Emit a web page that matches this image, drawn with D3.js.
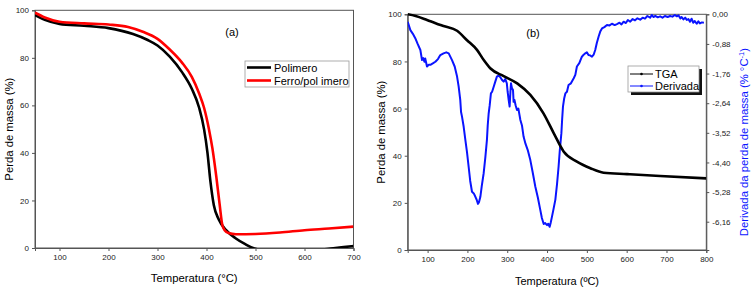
<!DOCTYPE html>
<html>
<head>
<meta charset="utf-8">
<script src="https://cdn.jsdelivr.net/npm/d3@7"></script>
<style>
  body { margin: 0; background: #fff; }
  svg { font-family: "Liberation Sans", Arial, sans-serif; }
  .tick text { font-size: 8px; fill: #222; }
</style>
</head>
<body>
<div id="chart"></div>
<script>
// ---- data, panel (a) ----
const polTemp = [50, 70, 100, 150, 200, 250, 280, 300, 325, 350, 370, 385, 395, 402, 408, 415, 425, 440, 460, 480, 495, 520, 600, 650, 680, 700]
const polMass = [98.0, 96.0, 94.3, 93.5, 92.5, 90.0, 87.5, 85.2, 80.5, 74, 67, 59, 50, 40, 28, 18, 12, 7.5, 4, 1.5, 0, -1, -1.5, -0.3, 0.4, 0.8]
const ferTemp = [50, 70, 100, 150, 200, 240, 270, 300, 325, 350, 370, 385, 395, 405, 412, 420, 427, 432, 437, 445, 460, 500, 550, 600, 650, 700]
const ferMass = [99, 97, 95.2, 94.5, 94, 93, 91, 88, 83.5, 78, 72, 65, 59, 50, 42, 30, 18, 10, 7.5, 6.3, 5.8, 5.9, 6.5, 7.5, 8.2, 9]

// ---- data, panel (b) ----
const tgaTemp = [50, 70, 98.5, 120, 140, 174, 199, 224, 241, 258, 291, 325, 358, 391, 417, 442, 475, 509, 542, 601, 684, 800]
const tgaMass = [100, 99.3, 97.6, 96.2, 95, 93, 89, 84.9, 80.6, 77, 73.8, 70.7, 65.8, 58, 49.5, 41.7, 37.5, 34.7, 32.8, 32.2, 31.4, 30.4]
const derTemp = [50, 56.7, 63, 69, 75, 81.8, 86, 89, 92, 94, 98.5, 103, 107, 113, 119.5, 126, 132, 140, 147, 153, 161.3, 168, 174, 178, 182, 184, 186.4, 190.6, 194.8, 199, 203, 207, 211.5, 216, 220, 223, 226.6, 229, 232.5, 236, 240.8, 245, 249, 251, 253.4, 256, 259, 262, 266, 270, 274, 278, 282.7, 287, 291, 295, 299, 301, 303.6, 306, 308, 309.5, 312, 314.5, 316, 318, 321, 324.5, 328, 333, 337, 341, 346, 352, 358, 364, 370.6, 377, 383, 387, 391.6, 395, 400, 403, 406.6, 409, 412.4, 416, 420.8, 425, 429, 432, 436, 438, 440, 443, 446, 450, 454, 460, 467, 471, 475, 481, 487.5, 492, 496, 500, 504, 508, 512.9, 517, 521, 525, 529.6, 534, 538, 544, 550.5, 557, 563, 570, 575.6, 582, 587, 592.4, 598, 603, 609, 615, 621, 627, 634, 640, 646, 652, 659, 663, 667, 672, 678, 684, 690, 696, 703, 709, 715, 721, 726, 730, 735, 738, 742.6, 747, 751, 755, 759, 763, 767, 771, 776, 780, 784, 789, 794, 800]
const derVal = [-0.22, -0.47, -0.58, -0.71, -0.88, -1.06, -1.36, -1.30, -1.41, -1.31, -1.55, -1.50, -1.50, -1.46, -1.41, -1.33, -1.21, -1.16, -1.13, -1.16, -1.36, -1.55, -1.85, -2.15, -2.54, -2.90, -3.04, -3.34, -3.73, -4.10, -4.52, -4.95, -5.27, -5.32, -5.42, -5.50, -5.63, -5.58, -5.42, -5.10, -4.72, -4.25, -3.73, -3.30, -2.94, -2.70, -2.35, -2.30, -2.15, -2.00, -1.85, -1.82, -1.87, -1.95, -2.00, -1.92, -2.05, -2.30, -2.54, -2.74, -2.30, -2.05, -2.20, -2.25, -2.60, -2.54, -2.70, -2.84, -2.80, -3.14, -3.30, -3.63, -3.85, -4.05, -4.33, -4.70, -5.12, -5.45, -5.81, -6.05, -6.23, -6.20, -6.26, -6.22, -6.31, -6.20, -6.01, -5.80, -5.51, -5.05, -4.52, -4.05, -3.53, -3.10, -2.74, -2.50, -2.35, -2.30, -2.10, -2.05, -1.90, -1.80, -1.55, -1.45, -1.26, -1.20, -1.16, -1.13, -1.21, -1.22, -1.26, -1.20, -1.06, -0.85, -0.66, -0.50, -0.42, -0.38, -0.32, -0.33, -0.28, -0.32, -0.29, -0.25, -0.30, -0.22, -0.26, -0.17, -0.22, -0.14, -0.18, -0.12, -0.16, -0.10, -0.13, -0.05, -0.10, -0.02, -0.08, -0.05, -0.09, -0.06, -0.10, -0.05, -0.08, -0.05, -0.07, -0.02, -0.06, -0.03, -0.12, -0.08, -0.15, -0.10, -0.17, -0.14, -0.22, -0.13, -0.25, -0.20, -0.28, -0.21, -0.27, -0.24, -0.25]

const xTicksA = [100, 200, 300, 400, 500, 600, 700]
const yTicksA = [0, 20, 40, 60, 80, 100]
const xTicksB = [100, 200, 300, 400, 500, 600, 700, 800]
const yTicksB = [0, 20, 40, 60, 80, 100]
const rTicksB = [0, -0.88, -1.76, -2.64, -3.52, -4.40, -5.28, -6.16]

const W = 754, H = 290
const frameColor = '#555'

const svg = d3.select('#chart').append('svg')
  .attr('width', W)
  .attr('height', H)

function zip (xs, ys) {
  return xs.map((x, i) => [x, ys[i]])
}

function styleAxis (g) {
  g.select('.domain').attr('stroke', frameColor)
  g.selectAll('.tick line').attr('stroke', frameColor)
}

// ================= panel (a) =================
const a = { left: 35, right: 353.5, top: 10.3, bottom: 248 }
const xa = d3.scaleLinear().domain([50, 700]).range([a.left, a.right])
const ya = d3.scaleLinear().domain([0, 100]).range([a.bottom, a.top])

svg.append('clipPath').attr('id', 'clipA')
  .append('rect')
  .attr('x', a.left).attr('y', a.top)
  .attr('width', a.right - a.left).attr('height', a.bottom - a.top)

svg.append('rect')
  .attr('x', a.left).attr('y', a.top)
  .attr('width', a.right - a.left).attr('height', a.bottom - a.top)
  .attr('fill', 'none').attr('stroke', frameColor)

svg.append('g')
  .attr('transform', `translate(0,${a.bottom})`)
  .call(d3.axisBottom(xa).tickValues(xTicksA).tickSize(3).tickPadding(3))
  .call(styleAxis)
svg.append('g')
  .attr('transform', `translate(${a.left},0)`)
  .call(d3.axisLeft(ya).tickValues(yTicksA).tickSize(3).tickPadding(3))
  .call(styleAxis)

const lineA = d3.line()
  .x((d) => xa(d[0]))
  .y((d) => ya(d[1]))
  .curve(d3.curveMonotoneX)

const plotA = svg.append('g').attr('clip-path', 'url(#clipA)')
plotA.append('path')
  .attr('d', lineA(zip(polTemp, polMass)))
  .attr('fill', 'none').attr('stroke', '#000').attr('stroke-width', 2.6)
plotA.append('path')
  .attr('d', lineA(zip(ferTemp, ferMass)))
  .attr('fill', 'none').attr('stroke', '#f00').attr('stroke-width', 2.6)

svg.append('text')
  .attr('x', 232).attr('y', 36)
  .attr('text-anchor', 'middle')
  .style('font-size', '11px')
  .text('(a)')

// legend (a)
const legA = svg.append('g').attr('transform', 'translate(245,61)')
legA.append('rect')
  .attr('width', 104).attr('height', 26)
  .attr('fill', '#fff').attr('stroke', '#999').attr('stroke-width', 0.8)
const legAItems = [['Polimero', '#000'], ['Ferro/pol\u00A0imero', '#f00']]
legAItems.forEach((it, i) => {
  legA.append('path')
    .attr('d', `M2,${6.5 + i * 13}H26`)
    .attr('stroke', it[1]).attr('stroke-width', 2.6)
  legA.append('text')
    .attr('x', 29).attr('y', 10.5 + i * 13)
    .style('font-size', '11px')
    .text(it[0])
})

svg.append('text')
  .attr('x', (a.left + a.right) / 2).attr('y', 282)
  .attr('text-anchor', 'middle')
  .style('font-size', '11.3px')
  .text('Temperatura (°C)')
svg.append('text')
  .attr('transform', `translate(13,${(a.top + a.bottom) / 2}) rotate(-90)`)
  .attr('text-anchor', 'middle')
  .style('font-size', '11.3px')
  .text('Perda de massa (%)')

// ================= panel (b) =================
const b = { left: 407.7, right: 706.3, top: 14.3, bottom: 250 }
const xb = d3.scaleLinear().domain([50, 800]).range([b.left, b.right])
const yb = d3.scaleLinear().domain([0, 100]).range([b.bottom, b.top])
const rb = d3.scaleLinear().domain([-7.0, 0]).range([b.bottom, b.top])

svg.append('clipPath').attr('id', 'clipB')
  .append('rect')
  .attr('x', b.left).attr('y', b.top - 2)
  .attr('width', b.right - b.left).attr('height', b.bottom - b.top + 2)

svg.append('rect')
  .attr('x', b.left).attr('y', b.top)
  .attr('width', b.right - b.left).attr('height', b.bottom - b.top)
  .attr('fill', 'none').attr('stroke', frameColor)

svg.append('g')
  .attr('transform', `translate(0,${b.bottom})`)
  .call(d3.axisBottom(xb).tickValues(xTicksB).tickSize(3).tickPadding(3))
  .call(styleAxis)
svg.append('g')
  .attr('transform', `translate(${b.left},0)`)
  .call(d3.axisLeft(yb).tickValues(yTicksB).tickSize(3).tickPadding(3))
  .call(styleAxis)
svg.append('g')
  .attr('transform', `translate(${b.right},0)`)
  .call(d3.axisRight(rb).tickValues(rTicksB).tickSize(3).tickPadding(3)
    .tickFormat((d) => d3.format('.2f')(d).replace('.', ',').replace('−', '-')))
  .call(styleAxis)

const plotB = svg.append('g').attr('clip-path', 'url(#clipB)')
const lineTga = d3.line()
  .x((d) => xb(d[0]))
  .y((d) => yb(d[1]))
  .curve(d3.curveMonotoneX)
const lineDer = d3.line()
  .x((d) => xb(d[0]))
  .y((d) => rb(d[1]))

plotB.append('path')
  .attr('d', lineDer(zip(derTemp, derVal)))
  .attr('fill', 'none').attr('stroke', '#0a14ff').attr('stroke-width', 2)
  .attr('stroke-linejoin', 'round')
plotB.append('path')
  .attr('d', lineTga(zip(tgaTemp, tgaMass)))
  .attr('fill', 'none').attr('stroke', '#000').attr('stroke-width', 2.6)

svg.append('text')
  .attr('x', 533).attr('y', 37)
  .attr('text-anchor', 'middle')
  .style('font-size', '11px')
  .text('(b)')

// legend (b)
const legB = svg.append('g').attr('transform', 'translate(628,66)')
legB.append('rect')
  .attr('x', 3).attr('y', 3)
  .attr('width', 71).attr('height', 26)
  .attr('fill', '#111')
legB.append('rect')
  .attr('width', 71).attr('height', 26)
  .attr('fill', '#fff').attr('stroke', '#999').attr('stroke-width', 0.8)
const legBItems = [['TGA', '#000'], ['Derivada', '#0a14ff']]
legBItems.forEach((it, i) => {
  const yy = 8 + i * 12
  legB.append('path')
    .attr('d', `M2,${yy}H25`)
    .attr('stroke', it[1]).attr('stroke-width', 1)
  legB.append('circle')
    .attr('cx', 13.5).attr('cy', yy).attr('r', 1.3)
    .attr('fill', it[1])
  legB.append('text')
    .attr('x', 27).attr('y', yy + 4)
    .style('font-size', '11px')
    .text(it[0])
})

svg.append('text')
  .attr('x', (b.left + b.right) / 2).attr('y', 285)
  .attr('text-anchor', 'middle')
  .style('font-size', '11px')
  .text('Temperatura (ºC)')
svg.append('text')
  .attr('transform', `translate(385,${(b.top + b.bottom) / 2}) rotate(-90)`)
  .attr('text-anchor', 'middle')
  .style('font-size', '11.3px')
  .text('Perda de massa (%)')
const rl = svg.append('text')
  .attr('transform', `translate(748,${(b.top + b.bottom) / 2 + 10}) rotate(-90)`)
  .attr('text-anchor', 'middle')
  .attr('fill', '#0a14ff')
  .style('font-size', '11.3px')
rl.append('tspan').text('Derivada da perda de massa (% °C')
rl.append('tspan').attr('dy', -4).style('font-size', '7.5px').text('-1')
rl.append('tspan').attr('dy', 4).text(')')
</script>
</body>
</html>
